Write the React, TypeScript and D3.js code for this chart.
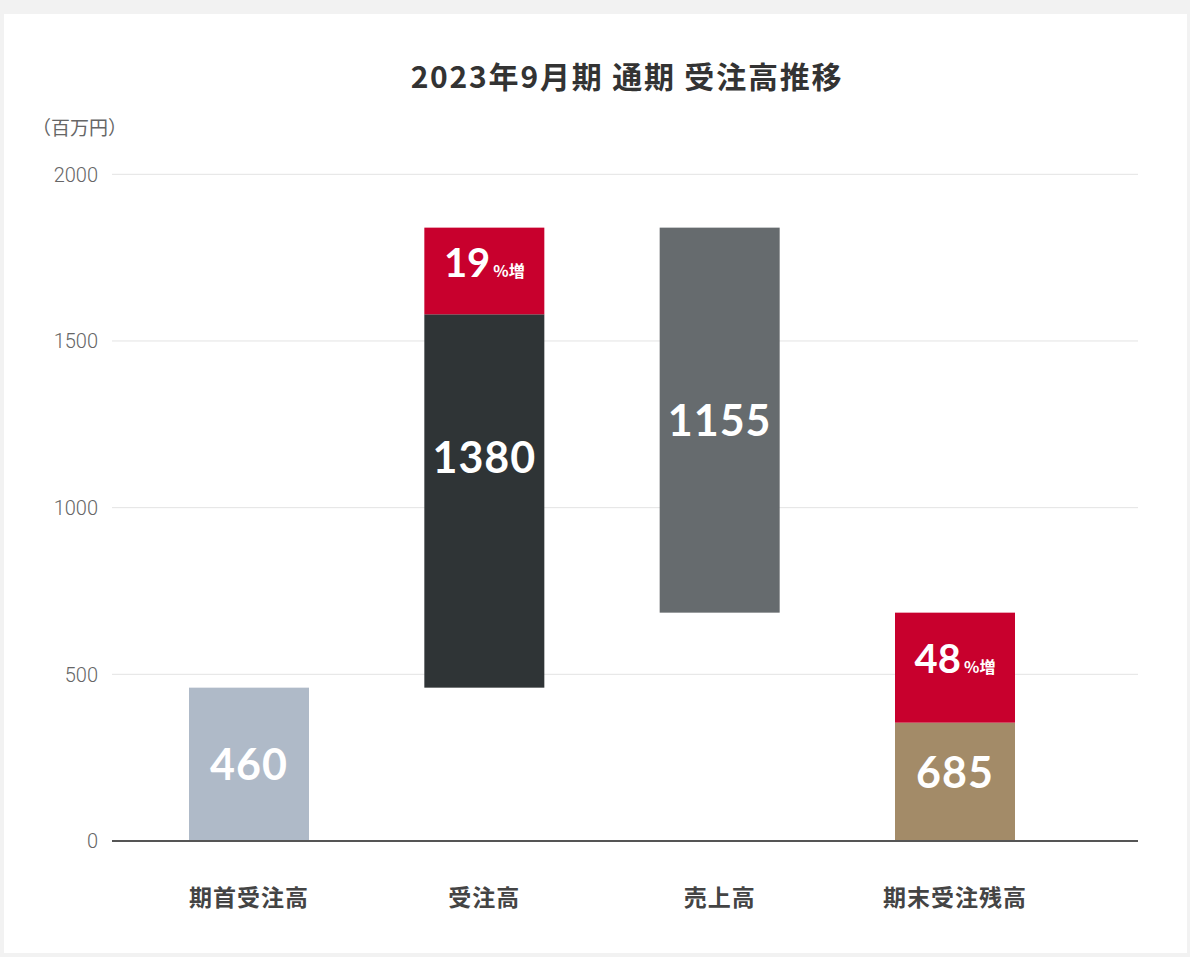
import React from "react";
import * as d3 from "d3";

const categories = ["期首受注高", "受注高", "売上高", "期末受注残高"];
const baseValues = [0, 460, 685, 0];
const totalValues = [460, 1380, 1155, 685];
const increaseValues = [0, 260, 0, 330];
const growthPct: (number | null)[] = [null, 19, null, 48];
const yTicks = [0, 500, 1000, 1500, 2000];

const title = "2023年9月期 通期 受注高推移";
const unitLabel = "（百万円）";

const barColors = ["#afbac8", "#2f3436", "#666b6e", "#a38b68"];
const increaseColor = "#c8002d";

const W = 1190;
const H = 957;

export default function App() {
  const x = d3.scalePoint<string>().domain(categories).range([249, 955]);
  const y = d3.scaleLinear().domain([0, 2000]).range([841, 174.3]);
  const barW = 120;
  const gridX0 = 112;
  const gridX1 = 1138;
  const cjk = '"Noto Sans CJK JP", "Noto Sans", sans-serif';
  const num = 'Lato, "Noto Sans", sans-serif';

  return (
    <svg
      width={W}
      height={H}
      style={{ position: "absolute", left: 0, top: 0, display: "block" }}
    >
      <rect x={0} y={0} width={W} height={H} fill="#f2f2f2" />
      <rect x={4} y={14} width={1183} height={939} fill="#ffffff" />

      <text
        x={627}
        y={88}
        textAnchor="middle"
        fontFamily={cjk}
        fontWeight={700}
        fontSize={30}
        letterSpacing={1.8}
        fill="#333"
      >
        {title}
      </text>

      <text x={32} y={135} fontFamily={cjk} fontSize={19} fill="#666">
        {unitLabel}
      </text>

      {yTicks.map((t) => (
        <g key={t}>
          {t !== 0 && (
            <line
              x1={gridX0}
              x2={gridX1}
              y1={y(t)}
              y2={y(t)}
              stroke="#e3e3e3"
              strokeWidth={1}
            />
          )}
          <text
            x={98}
            y={y(t)}
            dy="0.36em"
            textAnchor="end"
            fontFamily="Roboto, sans-serif"
            fontWeight={300}
            fontSize={20}
            fill="#666"
          >
            {t}
          </text>
        </g>
      ))}

      {categories.map((c, i) => {
        const cx = x(c)!;
        const b = baseValues[i];
        const tot = totalValues[i];
        const inc = increaseValues[i];
        const top = b + tot;
        const split = top - inc;
        const pct = growthPct[i];
        const mainLabelY =
          inc > 0 && b === 0 ? (y(0) + y(split)) / 2 - 9 : (y(b) + y(top)) / 2;
        return (
          <g key={c}>
            <rect
              x={cx - barW / 2}
              width={barW}
              y={y(split)}
              height={y(b) - y(split)}
              fill={barColors[i]}
            />
            {inc > 0 && (
              <rect
                x={cx - barW / 2}
                width={barW}
                y={y(top)}
                height={y(split) - y(top)}
                fill={increaseColor}
              />
            )}
            <text
              x={cx}
              y={mainLabelY}
              dy="0.36em"
              textAnchor="middle"
              fontFamily={num}
              fontWeight={700}
              fontSize={43}
              letterSpacing={1}
              fill="#fff"
            >
              {tot}
            </text>
            {pct !== null && (
              <text
                x={cx}
                y={(y(top) + y(split)) / 2}
                dy="0.36em"
                textAnchor="middle"
                fill="#fff"
                fontWeight={700}
              >
                <tspan fontFamily={num} fontSize={40}>
                  {pct}
                </tspan>
                <tspan fontFamily={cjk} fontSize={16} dx={3}>
                  %増
                </tspan>
              </text>
            )}
            <text
              x={cx}
              y={898}
              dy="0.36em"
              textAnchor="middle"
              fontFamily={cjk}
              fontWeight={700}
              fontSize={23}
              letterSpacing={1}
              fill="#444"
            >
              {c}
            </text>
          </g>
        );
      })}

      <line
        x1={gridX0}
        x2={gridX1}
        y1={y(0)}
        y2={y(0)}
        stroke="#555"
        strokeWidth={2}
      />
    </svg>
  );
}
